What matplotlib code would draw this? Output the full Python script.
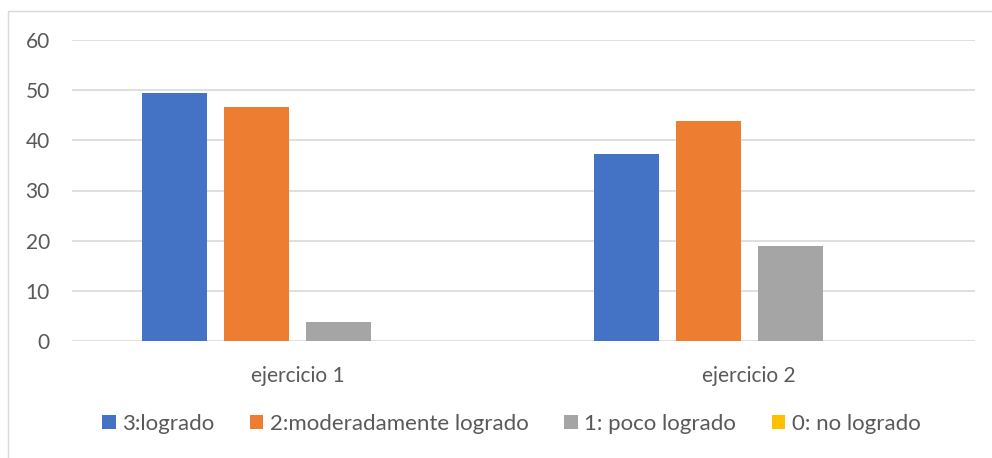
import numpy as np
import matplotlib
matplotlib.use('Agg')
import matplotlib.pyplot as plt
from matplotlib.patches import Rectangle

plt.rcParams['font.family'] = ['Lato', 'DejaVu Sans']

categories = ['ejercicio 1', 'ejercicio 2']
series_names = ['3:logrado', '2:moderadamente logrado', '1: poco logrado', '0: no logrado']
values_logrado = [49.5, 37.2]
values_moderado = [46.6, 43.8]
values_poco = [3.7, 19.0]
values_no = [0, 0]
colors = ['#4472C4', '#ED7D31', '#A5A5A5', '#FFC000']
yticks = [0, 10, 20, 30, 40, 50, 60]

W, H = 992, 458
fig = plt.figure(figsize=(W / 100, H / 100), dpi=100)
ax = fig.add_axes([72 / W, 1 - 341 / H, (975 - 72) / W, (341 - 40) / H])

# light border around the chart area
fig.patches.append(Rectangle((8 / W, -0.1), 1.2, 1 - 11 / H + 0.1, transform=fig.transFigure,
                             fill=False, edgecolor='#D9D9D9', linewidth=1))

x = np.arange(len(categories))
width = 0.144
step = 0.1816
all_series = [values_logrado, values_moderado, values_poco, values_no]
for i, (name, vals) in enumerate(zip(series_names, all_series)):
    offset = (i - 1.5) * step
    ax.bar(x + offset, vals, width, color=colors[i], label=name, zorder=3)

ax.set_xlim(-0.5, 1.5)
ax.set_ylim(0, 60)
ax.set_yticks(yticks)
ax.set_xticks(x)
ax.set_xticklabels(categories)
ax.grid(axis='y', color='#D9D9D9', linewidth=1.2, zorder=0)
for s in ax.spines.values():
    s.set_visible(False)
ax.tick_params(axis='both', length=0, labelsize=15, colors='#595959')
ax.tick_params(axis='y', pad=16)
ax.tick_params(axis='x', pad=18)

leg = ax.legend(loc='center', bbox_to_anchor=(0.5 - 12 / 903, -0.275), ncol=4, frameon=False,
                fontsize=16, handlelength=0.6, handleheight=0.6, handletextpad=0.3,
                columnspacing=1.6)
for t in leg.get_texts():
    t.set_color('#595959')

fig.savefig('out.png', dpi=100)
